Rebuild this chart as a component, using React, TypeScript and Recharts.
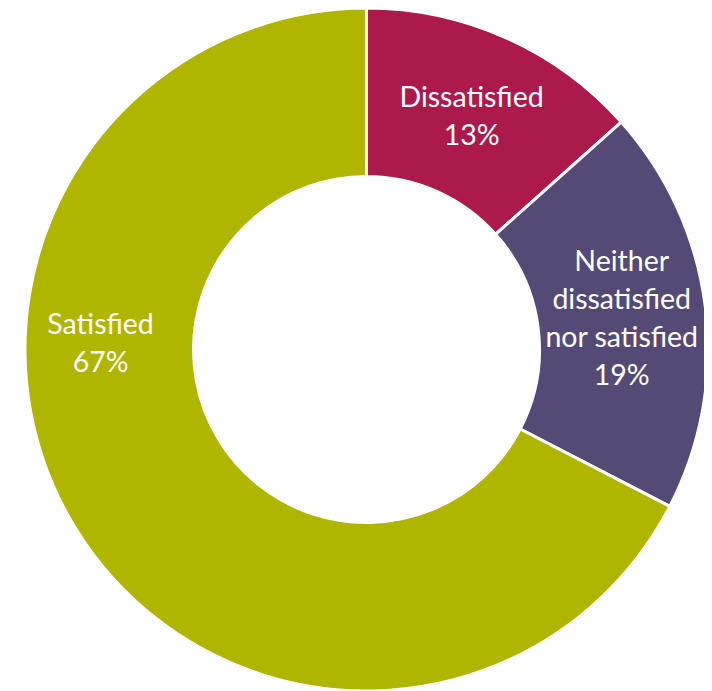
import React from "react";
import { PieChart, Pie, Cell } from "recharts";

const categories = ["Dissatisfied", "Neither dissatisfied nor satisfied", "Satisfied"];
const labelLines = [["Dissatisfied"], ["Neither", "dissatisfied", "nor satisfied"], ["Satisfied"]];
const values = [13.4, 19.2, 67.4];
const colors = ["#AB1A4A", "#554A75", "#B0B500"];

const data = categories.map((name, i) => ({ name, value: values[i] }));

const RAD = Math.PI / 180;
const FONT = 28.5;
const LH = 38;

const renderLabel = (props: any) => {
  const { cx, cy, midAngle, innerRadius, outerRadius, index } = props;
  let angle = midAngle;
  let r = (innerRadius + outerRadius) / 2;
  if (index === 2) {
    angle = 178.4;
    r = 266;
  }
  const x = cx + r * Math.cos(-angle * RAD);
  const y = cy + r * Math.sin(-angle * RAD);
  const lines = [...labelLines[index], `${Math.round(values[index])}%`];
  const startY = y - ((lines.length - 1) * LH) / 2;
  return (
    <text
      x={x}
      y={startY}
      fill="#FFFFFF"
      textAnchor="middle"
      dominantBaseline="central"
      fontFamily="Lato, 'Open Sans', sans-serif"
      fontSize={FONT}
    >
      {lines.map((l, i) => (
        <tspan key={i} x={x} y={startY + i * LH} dominantBaseline="central">
          {l}
        </tspan>
      ))}
    </text>
  );
};

export default function App() {
  return (
    <div style={{ width: 704, height: 683 }}>
      <PieChart width={704} height={683} margin={{ top: 0, right: 0, bottom: 0, left: 0 }}>
        <Pie
          data={data}
          dataKey="value"
          nameKey="name"
          cx={358.5}
          cy={341.5}
          innerRadius={173}
          outerRadius={341.5}
          startAngle={90}
          endAngle={-270}
          stroke="#FFFFFF"
          strokeWidth={3}
          label={renderLabel}
          labelLine={false}
          isAnimationActive={false}
        >
          {data.map((d, i) => (
            <Cell key={d.name} fill={colors[i]} />
          ))}
        </Pie>
      </PieChart>
    </div>
  );
}
